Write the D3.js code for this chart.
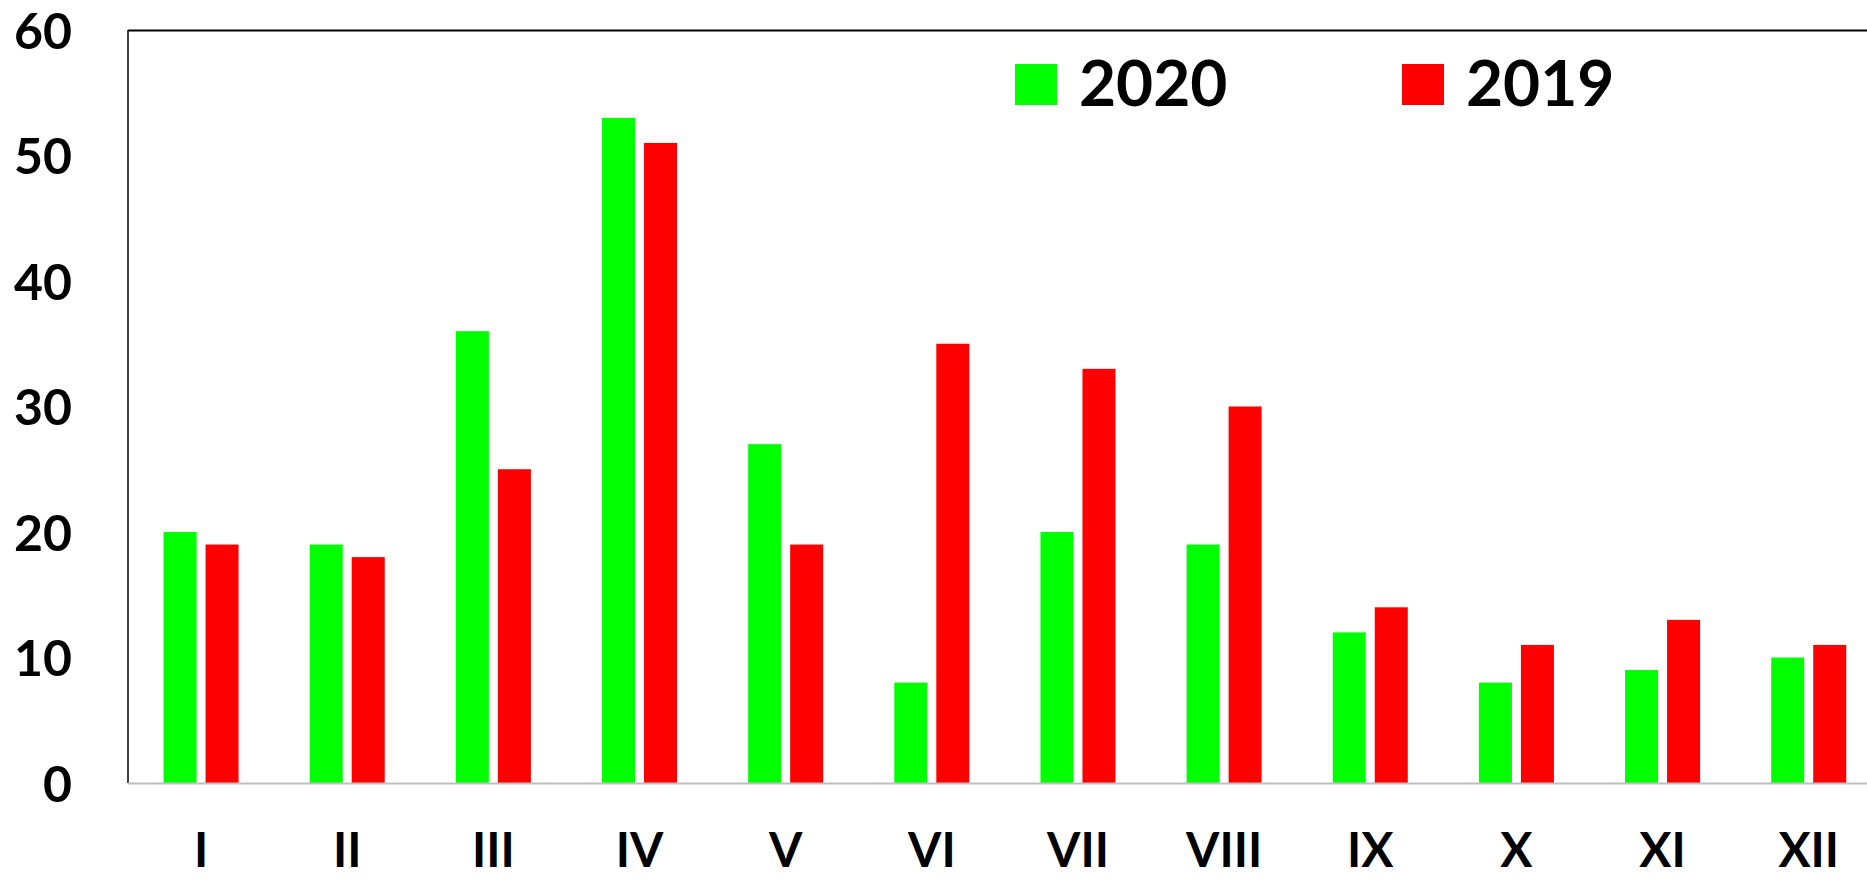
<!DOCTYPE html>
<html>
<head>
<meta charset="utf-8">
<script src="https://cdn.jsdelivr.net/npm/d3@7"></script>
<style>
  html, body { margin: 0; padding: 0; background: #fff; overflow: hidden; }
  svg { display: block; }
  text { font-family: Lato, "Noto Sans", sans-serif; font-weight: 700; fill: #000; }
</style>
</head>
<body>
<svg id="chart" width="1867" height="880"></svg>
<script>
const months = ["I","II","III","IV","V","VI","VII","VIII","IX","X","XI","XII"];
const seriesNames = ["2020","2019"];
const values2020 = [20,19,36,53,27,8,20,19,12,8,9,10];
const values2019 = [19,18,25,51,19,35,33,30,14,11,13,11];
const yTicks = [0,10,20,30,40,50,60];
const colors = {"2020":"#00ff00","2019":"#ff0000"};

(function () {
const svg = d3.select("#chart");
const mLeft = 128, mTop = 30, mBottom = 783;
const step = 146.15;
const mRight = mLeft + step * months.length;

const y = d3.scaleLinear().domain([0, 60]).range([mBottom, mTop]);
const pIn = 1 - 75 / step;
const x0 = d3.scaleBand().domain(months).range([mLeft, mRight]).paddingInner(pIn).paddingOuter(pIn / 2);
const x1 = d3.scaleBand().domain(seriesNames).range([0, x0.bandwidth()]).paddingInner(0.214).paddingOuter(0);

const data = months.map((m, i) => ({ month: m, "2020": values2020[i], "2019": values2019[i] }));

// bars
const g = svg.append("g");
g.selectAll("g.grp").data(data).join("g")
  .attr("class", "grp")
  .attr("transform", d => `translate(${x0(d.month)},0)`)
  .selectAll("rect").data(d => seriesNames.map(s => ({ s, v: d[s] }))).join("rect")
  .attr("x", d => x1(d.s))
  .attr("width", x1.bandwidth())
  .attr("y", d => y(d.v))
  .attr("height", d => y(0) - y(d.v))
  .attr("fill", d => colors[d.s]);

// frame lines
svg.append("line").attr("x1", mLeft).attr("x2", 1867).attr("y1", mTop + 0.5).attr("y2", mTop + 0.5)
  .attr("stroke", "#000").attr("stroke-width", 2);
svg.append("line").attr("x1", mLeft).attr("x2", mLeft).attr("y1", mTop).attr("y2", mBottom)
  .attr("stroke", "#000").attr("stroke-width", 1.5);
svg.append("line").attr("x1", mLeft).attr("x2", 1867).attr("y1", mBottom + 0.5).attr("y2", mBottom + 0.5)
  .attr("stroke", "#bfbfbf").attr("stroke-width", 2);

// y axis labels
const yAxis = d3.axisLeft(y).tickValues(yTicks).tickSize(0).tickPadding(0);
const ya = svg.append("g").attr("transform", `translate(72,0)`).call(yAxis);
ya.select(".domain").remove();
ya.selectAll("text").attr("font-size", 50).attr("font-family", "Lato, 'Noto Sans', sans-serif")
  .attr("font-weight", 700).attr("fill", "#000").attr("dy", "0.36em");

// x axis labels
const xAxis = d3.axisBottom(x0).tickSize(0).tickPadding(0);
const xa = svg.append("g").attr("transform", `translate(0,867)`).call(xAxis);
xa.select(".domain").remove();
xa.selectAll("text").attr("font-size", 48).attr("font-family", "Lato, 'Noto Sans', sans-serif")
  .attr("font-weight", 700).attr("fill", "#000").attr("dy", 0).attr("y", 0);

// legend
const legendPos = [{ s: "2020", x: 1015 }, { s: "2019", x: 1402 }];
const lg = svg.append("g");
legendPos.forEach(p => {
  lg.append("rect").attr("x", p.x).attr("y", 64).attr("width", 42).attr("height", 41).attr("fill", colors[p.s]);
  lg.append("text").attr("x", p.x + 64).attr("y", 106).attr("font-size", 64).text(p.s);
});
})();
</script>
</body>
</html>
